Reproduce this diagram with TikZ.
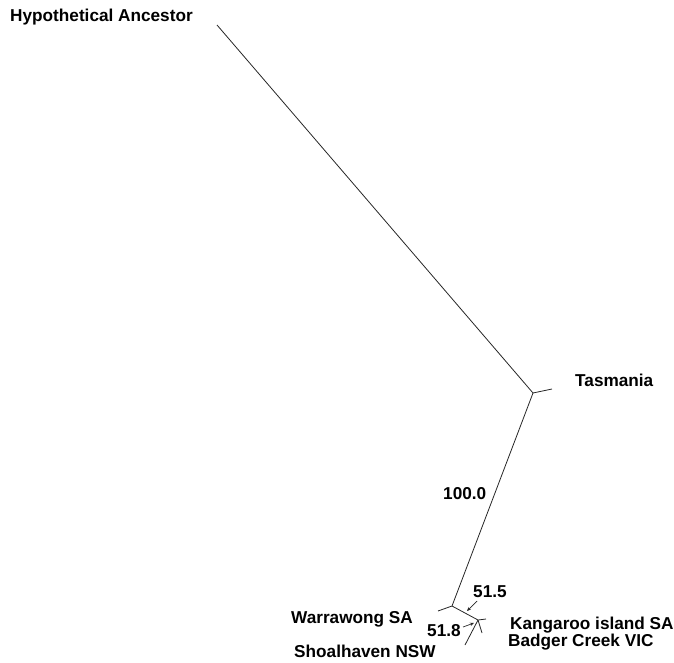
\documentclass[tikz,border=0pt]{standalone}
\usepackage{fontspec}
\setmainfont{Liberation Sans}
\usetikzlibrary{arrows.meta}
\begin{document}
\begin{tikzpicture}[x = 1pt, y = -1pt,
    branch/.style = {draw = black!85, line width = 0.8pt},
    pointer/.style = {draw = black!85, line width = 0.7pt, -{Stealth[length = 4pt, width = 3.5pt]}},
    every node/.style = {font = \bfseries\fontsize{17.2}{18}\selectfont, inner sep = 0pt, anchor = base west}]
    \useasboundingbox (0,0) rectangle (674,663);
    % tree
    \coordinate (anc) at (217,25);
    \coordinate (n1) at (533,393);
    \coordinate (tas) at (552,389);
    \coordinate (n2) at (452,606);
    \coordinate (war) at (438,611);
    \coordinate (n3) at (478,620);
    \coordinate (kan) at (486,619);
    \coordinate (bad) at (482,633);
    \coordinate (sho) at (465,645);
    \draw[branch] (anc) -- (n1) -- (tas);
    \draw[branch] (n1) -- (n2) -- (war);
    \draw[branch] (n2) -- (n3) -- (kan);
    \draw[branch] (n3) -- (bad);
    \draw[branch] (n3) -- (sho);
    % labels
    \node (lanc) at (10,22) {Hypothetical Ancestor};
    \node (ltas) at (575,386) {Tasmania};
    \node (lwar) at (291,623) {Warrawong SA};
    \node (lsho) at (294,657) {Shoalhaven NSW};
    \node (lkan) at (510,629) {Kangaroo island SA};
    \node (lbad) at (508,646) {Badger Creek VIC};
    % bootstrap values
    \node (b100) at (443,499) {100.0};
    \node (b515) at (473,597) {51.5};
    \node (b518) at (427,636) {51.8};
    \coordinate (t515) at (477,601);
    \coordinate (h515) at (467,611);
    \coordinate (t518) at (463,627);
    \coordinate (h518) at (474,623);
    \draw[pointer] (t515) -- (h515);
    \draw[pointer] (t518) -- (h518);
\end{tikzpicture}
\end{document}
